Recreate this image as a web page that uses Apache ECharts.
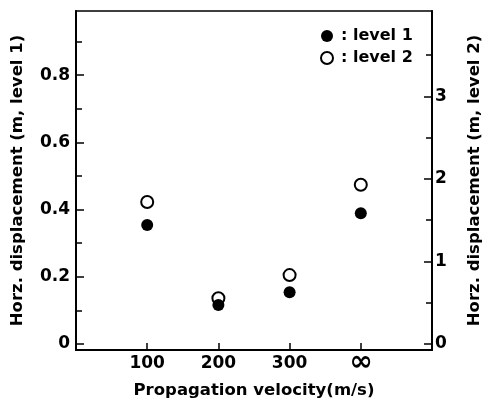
<!DOCTYPE html>
<html>
<head>
<meta charset="utf-8">
<script src="https://cdn.jsdelivr.net/npm/echarts@6/dist/echarts.min.js"></script>
<style>
  html, body { margin: 0; padding: 0; background: #fff; }
  #chart { width: 483px; height: 401px; }
</style>
</head>
<body>
<div id="chart"></div>
<script>
// Propagation velocity categories (∞ = rigid / instantaneous case)
const categories = ['100', '200', '300', '∞'];
// Horizontal displacement, level 1 (m) – left axis
const level1 = [0.354, 0.116, 0.154, 0.389];
// Horizontal displacement, level 2 (m) – right axis
const level2 = [1.72, 0.555, 0.835, 1.93];

// Tick values
const leftMajor = [0, 0.2, 0.4, 0.6, 0.8];
const leftMinor = [0.1, 0.3, 0.5, 0.7, 0.9];
const rightMajor = [0, 1, 2, 3];
const rightMinor = [0.5, 1.5, 2.5, 3.5];
const xTicks = [1, 2, 3, 4];

const FONT = 'DejaVu Sans';
const black = '#000';

const toPoints = arr => arr.map((v, i) => [i + 1, v]);

const majorStyle = { show: true, inside: true, length: 8, lineStyle: { color: black, width: 1.5 } };
const minorStyle = { show: true, inside: true, length: 6, lineStyle: { color: black, width: 1.5 } };
const labelBase = { color: black, fontFamily: FONT, fontWeight: 'bold', fontSize: 17 };
const titleBase = { color: black, fontFamily: FONT, fontWeight: 'bold', fontSize: 16.5 };

const chart = echarts.init(document.getElementById('chart'), null, { renderer: 'canvas' });

chart.setOption({
  animation: false,
  backgroundColor: '#fff',
  grid: {
    left: 76, right: 51, top: 11, bottom: 51,
    containLabel: false, outerBoundsMode: 'none',
    show: true, borderColor: black, borderWidth: 1.5, backgroundColor: 'transparent'
  },
  legend: {
    orient: 'vertical',
    left: 315, top: 23,
    itemWidth: 12, itemHeight: 12, itemGap: 6,
    data: ['level 1', 'level 2'],
    formatter: name => ': ' + name,
    textStyle: { color: black, fontFamily: FONT, fontWeight: 'bold', fontSize: 16, padding: [0, 0, 0, 3] }
  },
  xAxis: {
    type: 'value', min: 0, max: 5,
    name: 'Propagation velocity(m/s)',
    nameLocation: 'middle', nameGap: 27,
    nameTextStyle: { ...titleBase },
    axisLine: { show: true, onZero: false, lineStyle: { color: black, width: 2 } },
    axisTick: { ...majorStyle, length: 7, customValues: xTicks },
    axisLabel: {
      ...labelBase, margin: 5, customValues: xTicks,
      formatter: v => {
        const s = categories[Math.round(v) - 1];
        return s === '∞' ? '{inf|' + s + '}' : s;
      },
      rich: { inf: { fontFamily: FONT, fontWeight: 'bold', fontSize: 28, color: black, lineHeight: 16 } }
    },
    splitLine: { show: false }
  },
  yAxis: [
    {
      type: 'value', position: 'left', min: -0.018, max: 0.991,
      name: 'Horz. displacement (m, level 1)',
      nameLocation: 'middle', nameGap: 50, nameRotate: 90,
      nameTextStyle: { ...titleBase },
      axisLine: { show: true, lineStyle: { color: black, width: 2 } },
      axisTick: { ...majorStyle, customValues: leftMajor },
      axisLabel: { ...labelBase, margin: 6, customValues: leftMajor, formatter: v => v === 0 ? '0' : v.toFixed(1) },
      splitLine: { show: false }
    },
    {
      type: 'value', position: 'left', min: -0.018, max: 0.991,
      axisLine: { show: false },
      axisTick: { ...minorStyle, customValues: leftMinor },
      axisLabel: { show: false },
      splitLine: { show: false }
    },
    {
      type: 'value', position: 'right', min: -0.073, max: 4.036,
      name: 'Horz. displacement (m, level 2)',
      nameLocation: 'middle', nameGap: 34, nameRotate: 90,
      nameTextStyle: { ...titleBase },
      axisLine: { show: true, lineStyle: { color: black, width: 2 } },
      axisTick: { ...majorStyle, customValues: rightMajor },
      axisLabel: { ...labelBase, margin: 3, customValues: rightMajor, formatter: v => String(v) },
      splitLine: { show: false }
    },
    {
      type: 'value', position: 'right', min: -0.073, max: 4.036,
      axisLine: { show: false },
      axisTick: { ...minorStyle, customValues: rightMinor },
      axisLabel: { show: false },
      splitLine: { show: false }
    }
  ],
  series: [
    {
      name: 'level 1', type: 'scatter', yAxisIndex: 0, z: 4,
      symbol: 'circle', symbolSize: 12,
      itemStyle: { color: black, opacity: 1 },
      data: toPoints(level1)
    },
    {
      name: 'level 2', type: 'scatter', yAxisIndex: 2, z: 3,
      symbol: 'circle', symbolSize: 12,
      itemStyle: { color: '#fff', borderColor: black, borderWidth: 2, opacity: 1 },
      data: toPoints(level2)
    }
  ]
});
</script>
</body>
</html>
